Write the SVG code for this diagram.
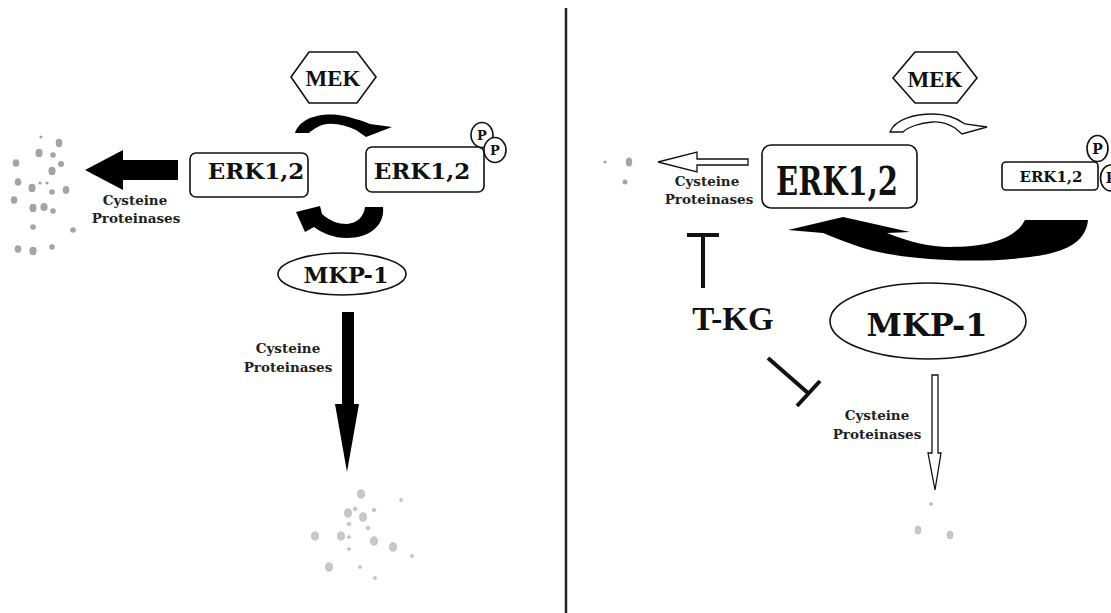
<svg xmlns="http://www.w3.org/2000/svg" width="1111" height="613" viewBox="0 0 1111 613">
<style>
.box{fill:#fff;stroke:#111;stroke-width:1.6}
.lbl{font-family:"DejaVu Serif","Liberation Serif",serif;font-weight:bold;fill:#111;text-anchor:middle}
.tm{font-family:"Liberation Serif","Times New Roman",serif;font-weight:bold;fill:#111;text-anchor:middle}
.cp{font-family:"DejaVu Serif","Liberation Serif",serif;font-weight:bold;font-size:13.5px;fill:#222;text-anchor:middle}
.blk{fill:#000}
.hol{fill:#fff;stroke:#111;stroke-width:1.3}
.d1{fill:#a4a4a4}
.d2{fill:#c8c8c8;stroke:#b0b0b0;stroke-width:0.6}
.inh{stroke:#111;stroke-width:4;fill:none}
</style>
<rect width="1111" height="613" fill="#fff"/>
<line x1="566" y1="8" x2="566" y2="613" stroke="#222" stroke-width="2.5"/>

<!-- LEFT PANEL -->
<g id="mek-left">
<polygon class="box" points="291,77 309,52 357,52 376,77 357,103 309,103"/>
<text class="tm" x="333" y="86" font-size="23">MEK</text>
</g>
<g id="erk-left">
<rect class="box" x="190" y="153" width="118" height="44" rx="6"/>
<text class="lbl" x="256" y="179" font-size="23">ERK1,2</text>
</g>
<g id="erkp-left">
<rect class="box" x="366" y="147" width="118" height="45" rx="6"/>
<text class="lbl" x="422" y="179" font-size="23">ERK1,2</text>
<ellipse class="box" cx="482" cy="135" rx="11" ry="12.5"/>
<text class="lbl" x="482" y="140" font-size="13">P</text>
<ellipse class="box" cx="495" cy="150" rx="11" ry="12.5"/>
<text class="lbl" x="495" y="155" font-size="13">P</text>
</g>
<g id="mkp-left">
<ellipse class="box" cx="342" cy="274" rx="64" ry="21"/>
<text class="lbl" x="346" y="283" font-size="22.5">MKP-1</text>
</g>
<g id="labels-left">
<text class="cp" x="135" y="205">Cysteine</text>
<text class="cp" x="136" y="223">Proteinases</text>
<text class="cp" x="288" y="353">Cysteine</text>
<text class="cp" x="288" y="372">Proteinases</text>
</g>
<g id="debris-left">
<circle class="d1" cx="41" cy="137" r="1.6"/>
<ellipse class="d1" cx="59" cy="143" rx="3.3" ry="4.2"/>
<ellipse class="d1" cx="39" cy="153" rx="3.6" ry="4.2"/>
<circle class="d1" cx="53" cy="155" r="2.8"/>
<ellipse class="d1" cx="16" cy="163" rx="3.3" ry="3.8"/>
<circle class="d1" cx="61" cy="164" r="3"/>
<ellipse class="d1" cx="52" cy="171" rx="3.6" ry="4.2"/>
<ellipse class="d1" cx="18" cy="182" rx="3.3" ry="3.8"/>
<ellipse class="d1" cx="32" cy="188" rx="3.6" ry="4.2"/>
<circle class="d1" cx="40" cy="183" r="1.6"/>
<circle class="d1" cx="47" cy="183" r="1.6"/>
<circle class="d1" cx="52" cy="192" r="2.8"/>
<ellipse class="d1" cx="66" cy="190" rx="3.3" ry="4"/>
<ellipse class="d1" cx="14" cy="200" rx="3.3" ry="3.8"/>
<ellipse class="d1" cx="33" cy="208" rx="3.6" ry="4.2"/>
<ellipse class="d1" cx="44" cy="207" rx="3.6" ry="4"/>
<circle class="d1" cx="53" cy="211" r="2.8"/>
<circle class="d1" cx="33" cy="227" r="2.8"/>
<circle class="d1" cx="73" cy="230" r="2.8"/>
<ellipse class="d1" cx="18" cy="249" rx="3.3" ry="3.8"/>
<ellipse class="d1" cx="33" cy="251" rx="3.6" ry="4.2"/>
<circle class="d1" cx="52" cy="247" r="2.8"/>
</g>
<g id="debris-left-bottom">
<ellipse class="d2" cx="361" cy="494" rx="3.5" ry="4.3"/>
<circle class="d2" cx="401" cy="500" r="1.5"/>
<ellipse class="d2" cx="348" cy="513" rx="3.5" ry="4.3"/>
<circle class="d2" cx="355" cy="509" r="1.8"/>
<ellipse class="d2" cx="363" cy="517" rx="3.5" ry="4.3"/>
<circle class="d2" cx="374" cy="510" r="1.8"/>
<circle class="d2" cx="349" cy="524" r="1.8"/>
<circle class="d2" cx="368" cy="528" r="1.8"/>
<ellipse class="d2" cx="315" cy="536" rx="3.5" ry="4.3"/>
<ellipse class="d2" cx="341" cy="536" rx="3.5" ry="4.3"/>
<circle class="d2" cx="349" cy="537" r="1.5"/>
<ellipse class="d2" cx="374" cy="541" rx="3.5" ry="4.3"/>
<ellipse class="d2" cx="393" cy="547" rx="3.5" ry="4.3"/>
<circle class="d2" cx="349" cy="549" r="1.5"/>
<circle class="d2" cx="412" cy="556" r="1.5"/>
<ellipse class="d2" cx="329" cy="567" rx="3.5" ry="4.3"/>
<circle class="d2" cx="360" cy="567" r="1.5"/>
<circle class="d2" cx="375" cy="578" r="1.5"/>
</g>

<!-- RIGHT PANEL -->
<g id="mek-right">
<polygon class="box" points="893,78 915,52 957,52 977,78 957,103 915,103"/>
<text class="tm" x="935" y="87" font-size="23">MEK</text>
</g>
<g id="erk-right">
<rect class="box" x="762" y="145" width="155" height="63" rx="9"/>
<text class="lbl" font-size="29" transform="translate(837,195) scale(1,1.38)" x="0" y="0">ERK1,2</text>
</g>
<g id="erkp-right">
<rect class="box" x="1002" y="162" width="96" height="28" rx="4"/>
<text class="lbl" x="1051" y="182" font-size="15">ERK1,2</text>
<ellipse class="box" cx="1097.5" cy="148.5" rx="10.5" ry="13"/>
<text class="lbl" x="1097.5" y="154" font-size="14">P</text>
<ellipse class="box" cx="1111" cy="178" rx="10.5" ry="13"/>
<text class="lbl" x="1111" y="183" font-size="14">P</text>
</g>
<g id="mkp-right">
<ellipse class="box" cx="928" cy="321" rx="98" ry="38"/>
<text class="lbl" x="927" y="336" font-size="32">MKP-1</text>
</g>
<g id="tkg">
<text class="tm" x="733" y="330" font-size="33">T-KG</text>
</g>
<g id="labels-right">
<text class="cp" x="707" y="186">Cysteine</text>
<text class="cp" x="709" y="204">Proteinases</text>
<text class="cp" x="877" y="420">Cysteine</text>
<text class="cp" x="877" y="439">Proteinases</text>
</g>
<g id="debris-right">
<circle class="d1" cx="605" cy="162" r="1.6"/>
<ellipse class="d1" cx="629" cy="162" rx="3.2" ry="4.5"/>
<circle class="d1" cx="625" cy="182" r="2.5"/>
<circle class="d2" cx="931" cy="504" r="1.5"/>
<ellipse class="d2" cx="918" cy="530" rx="3" ry="4"/>
<ellipse class="d2" cx="950" cy="535" rx="3" ry="4"/>
</g>

<!-- CONNECTORS -->
<g id="connectors">
<!-- left -->
<path class="blk" d="M295,133 C300,118 320,113 338,115 C352,117 362,121 370,124 L392,127 L366,137 L356,130 C345,125 333,122 322,125 C315,128 311,131 309,133 Z"/>
<path class="blk" d="M383,207 C385,225 370,238 347,238 C333,238 322,233 314,227 L305,232 L296,212 L320,206 L322,214 C330,221 338,224 347,224 C358,223 364,216 365,207 Z"/>
<polygon class="blk" points="178,160 123,160 123,150 85,170 123,190 123,180 178,180"/>
<polygon class="blk" points="342,312 354,312 354,404 359,404 347,472 335,404 342,404"/>
<!-- right -->
<path class="hol" d="M890,132 C895,119 915,114 933,114 C948,114 958,119 965,124 L987,127 L962,134 L955,128 C947,123 940,121 932,122 C920,123 908,127 903,132 Z"/>
<path class="blk" d="M1025,220 L1088,220 C1086,240 1070,252 1030,257 C1000,261 970,261 947,260 C905,258 880,253 863,248 C848,243 835,238 823,233 L788,230 L843,217 L910,232 L887,233 C910,242 930,247 950,247 C985,247 1015,240 1025,220 Z"/>
<polygon class="hol" points="748,159 697,159 697,152 658,162 697,172 697,165 748,165"/>
<polygon class="hol" points="932,375 938,375 938,453 941,453 935,490 928,453 932,453"/>
<line class="inh" x1="687" y1="235" x2="719" y2="235"/>
<line class="inh" x1="703" y1="235" x2="703" y2="288"/>
<line class="inh" x1="768" y1="358" x2="808" y2="393"/>
<line class="inh" x1="797" y1="406" x2="820" y2="381"/>
</g>
</svg>
